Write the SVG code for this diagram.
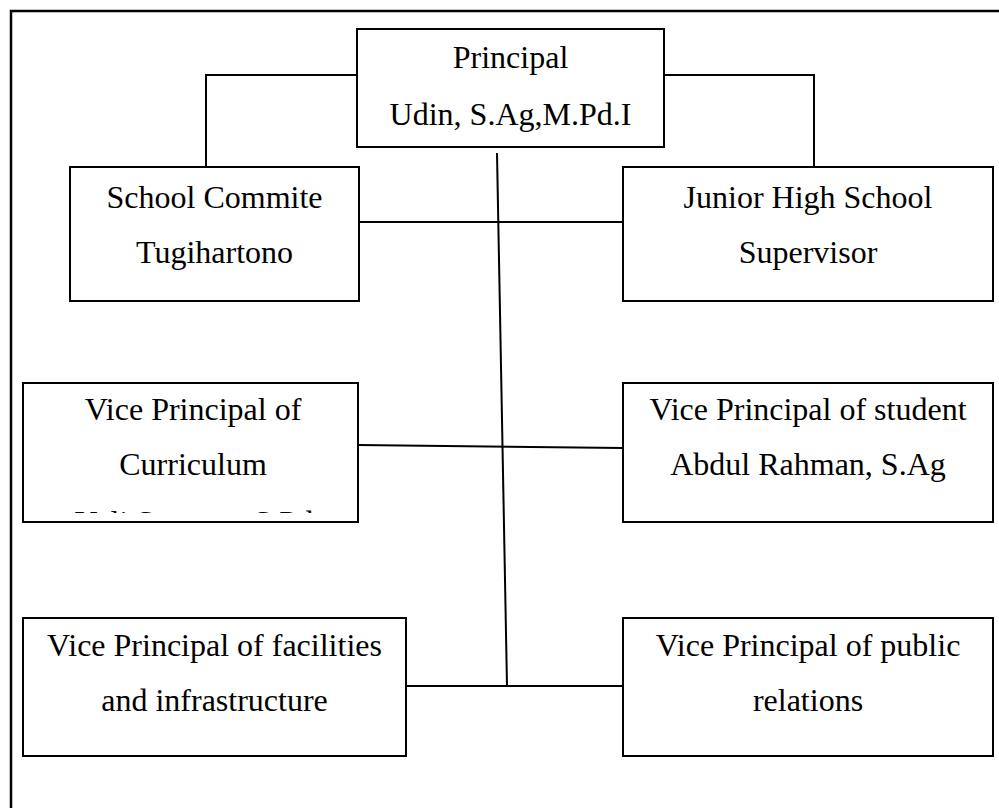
<svg xmlns="http://www.w3.org/2000/svg" width="999" height="808" viewBox="0 0 999 808">
  <defs>
    <style>
      .box { fill: #ffffff; stroke: #000000; stroke-width: 2; }
      .lbl { font-family: "Liberation Serif", "Times New Roman", serif; font-size: 32px; fill: #000000; text-anchor: middle; }
      .wire { fill: none; stroke: #000000; stroke-width: 2; }
      .frame { fill: none; stroke: #000000; stroke-width: 2.5; }
    </style>
    <!-- the curriculum box cuts off its third line -->
    <clipPath id="curriculumClip">
      <rect x="23" y="383" width="335" height="130"/>
    </clipPath>
  </defs>
  <rect x="0" y="0" width="999" height="808" fill="#ffffff"/>

  <!-- page frame -->
  <path class="frame" d="M11,808 V11 H999"/>

  <!-- connectors -->
  <g id="connectors">
    <path class="wire" d="M357,75 H206 V167"/>
    <path class="wire" d="M664,75 H814 V167"/>
    <line class="wire" x1="359" y1="222" x2="623" y2="222"/>
    <line class="wire" x1="497" y1="153" x2="507" y2="686"/>
    <line class="wire" x1="358" y1="445" x2="623" y2="448"/>
    <line class="wire" x1="406" y1="686" x2="623" y2="686"/>
  </g>

  <g id="principal">
    <rect class="box" x="357" y="29" width="307" height="118"/>
    <text class="lbl" x="510.5" y="68">Principal</text>
    <text class="lbl" x="510.5" y="125">Udin, S.Ag,M.Pd.I</text>
  </g>

  <g id="school-committee">
    <rect class="box" x="70" y="167" width="289" height="134"/>
    <text class="lbl" x="214.5" y="208">School Commite</text>
    <text class="lbl" x="214.5" y="263">Tugihartono</text>
  </g>

  <g id="supervisor">
    <rect class="box" x="623" y="167" width="370" height="134"/>
    <text class="lbl" x="808" y="208">Junior High School</text>
    <text class="lbl" x="808" y="263">Supervisor</text>
  </g>

  <g id="vp-curriculum">
    <rect class="box" x="23" y="383" width="335" height="139"/>
    <text class="lbl" x="193" y="420">Vice Principal of</text>
    <text class="lbl" x="193" y="475">Curriculum</text>
    <text class="lbl" x="194" y="533" clip-path="url(#curriculumClip)">Yuli Susanto, S.Pd</text>
  </g>

  <g id="vp-student">
    <rect class="box" x="623" y="383" width="370" height="139"/>
    <text class="lbl" x="808" y="420">Vice Principal of student</text>
    <text class="lbl" x="808" y="475">Abdul Rahman, S.Ag</text>
  </g>

  <g id="vp-facilities">
    <rect class="box" x="23" y="618" width="383" height="138"/>
    <text class="lbl" x="214.5" y="656">Vice Principal of facilities</text>
    <text class="lbl" x="214.5" y="711">and infrastructure</text>
  </g>

  <g id="vp-public-relations">
    <rect class="box" x="623" y="618" width="370" height="138"/>
    <text class="lbl" x="808" y="656">Vice Principal of public</text>
    <text class="lbl" x="808" y="711">relations</text>
  </g>
</svg>
